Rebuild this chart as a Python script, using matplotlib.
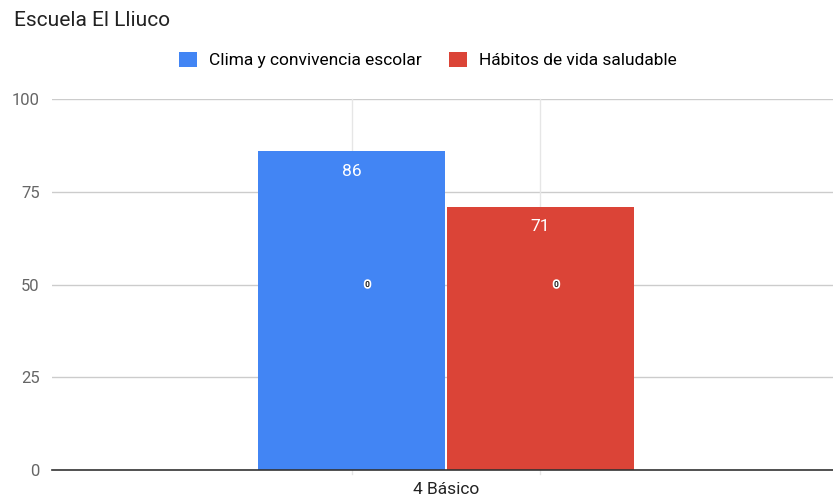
import numpy as np
import matplotlib.pyplot as plt
import matplotlib.patheffects as pe

plt.rcParams['font.family'] = ['Roboto', 'DejaVu Sans']

categorias = ["4 Básico"]
series = ["Clima y convivencia escolar", "Hábitos de vida saludable"]
clima = [86]
habitos = [71]
etiquetas_extra = ["0", "0"]
colores = ["#4285F4", "#DB4437"]
yticks = [0, 25, 50, 75, 100]

fig = plt.figure(figsize=(8.33, 4.99), dpi=100)
ax = fig.add_axes([52 / 833, 1 - 470 / 499, 1 - 52 / 833, (470 - 99) / 499])

ancho = 0.24
x = np.arange(len(categorias))
offsets = [-ancho / 2 - 0.0013, ancho / 2 + 0.0013]
valores = [clima, habitos]

for i, (vals, off) in enumerate(zip(valores, offsets)):
    bars = ax.bar(x + off, vals, width=ancho, color=colores[i], label=series[i], zorder=3)
    for b, v in zip(bars, vals):
        cx = b.get_x() + b.get_width() / 2
        ax.annotate(str(v), (cx, v), xytext=(0, -14.5), textcoords="offset points",
                    ha="center", va="center", color="white", fontsize=12.5, zorder=4)
        ax.annotate(etiquetas_extra[i], (cx, 50), xytext=(11.5, 0), textcoords="offset points",
                    ha="center", va="center", color="#222222", fontsize=6, fontweight="bold",
                    zorder=4, path_effects=[pe.withStroke(linewidth=2.5, foreground="white")])
        ax.axvline(cx, color="#e6e6e6", linewidth=1, zorder=1, ymin=-0.012, clip_on=False)

ax.set_xlim(-0.506, 0.497)
ax.set_ylim(0, 100)
ax.set_yticks(yticks)
ax.set_xticks(x)
ax.set_xticklabels(categorias, fontsize=12.5, color="#222222")
ax.tick_params(axis="y", length=0, labelsize=12, labelcolor="#666666", pad=9)
ax.tick_params(axis="x", length=0, pad=9)
ax.yaxis.grid(True, color="#cccccc", linewidth=1, zorder=0)
ax.set_axisbelow(True)
for s in ["top", "right", "left"]:
    ax.spines[s].set_visible(False)
ax.spines["bottom"].set_color("#333333")
ax.spines["bottom"].set_linewidth(1.2)
ax.spines["bottom"].set_zorder(5)

fig.text(14 / 833, 1 - 20 / 499, "Escuela El Lliuco", fontsize=15, color="#222222",
         ha="left", va="center")
fig.legend(loc="center", bbox_to_anchor=(428 / 833, 1 - 60 / 499), ncol=2, frameon=False,
           fontsize=12.5, handlelength=1.0, handleheight=1.0, handletextpad=0.7,
           columnspacing=1.6)

fig.savefig("out.png", dpi=100)
